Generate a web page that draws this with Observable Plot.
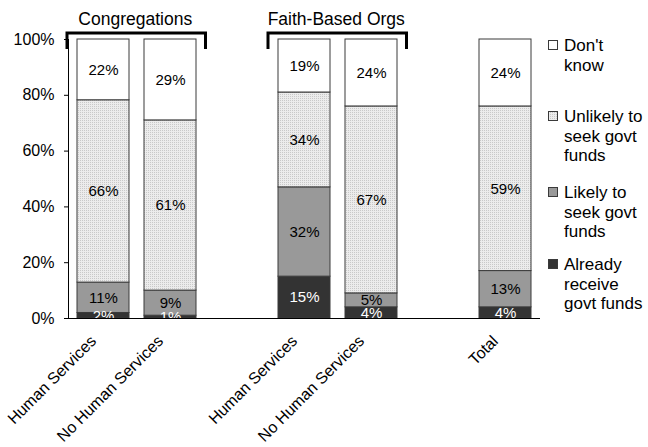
<!DOCTYPE html>
<html><head><meta charset="utf-8">
<script src="https://cdn.jsdelivr.net/npm/d3@7"></script>
<script src="https://cdn.jsdelivr.net/npm/@observablehq/plot@0.6"></script>
<style>body{margin:0;background:#fff} #chart svg{display:block}</style>
</head><body><div id="chart"></div>
<script>
// ---- data ----
const barKeys = ["cong-hs", "cong-nhs", "fbo-hs", "fbo-nhs", "total"];
const barLabels = ["Human Services", "No Human Services", "Human Services", "No Human Services", "Total"];
const slotKeys = ["cong-hs", "cong-nhs", "gap-1", "fbo-hs", "fbo-nhs", "gap-2", "total"];
const seriesNames = ["Already receive govt funds", "Likely to seek govt funds", "Unlikely to seek govt funds", "Don't know"];
const alreadyReceive = [2, 1, 15, 4, 4];
const likelyToSeek = [11, 9, 32, 5, 13];
const unlikelyToSeek = [66, 61, 34, 67, 59];
const dontKnow = [22, 29, 19, 24, 24];
const groupNames = ["Congregations", "Faith-Based Orgs"];
const groupFirst = ["cong-hs", "fbo-hs"];
const groupLast = ["cong-nhs", "fbo-nhs"];
const legendSeries = ["Don't know", "Unlikely to seek govt funds", "Likely to seek govt funds", "Already receive govt funds"];
const legendLines = [["Don't", "know"], ["Unlikely to", "seek govt", "funds"], ["Likely to", "seek govt", "funds"], ["Already", "receive", "govt funds"]];
const yTicks = [0, 0.2, 0.4, 0.6, 0.8, 1];

// ---- build table ----
const seriesValues = [alreadyReceive, likelyToSeek, unlikelyToSeek, dontKnow];
const rows = [];
seriesNames.forEach((s, i) => barKeys.forEach((k, j) => rows.push({key: k, series: s, value: seriesValues[i][j]})));
const labelOf = new Map(barKeys.map((k, i) => [k, barLabels[i]]));
const seriesFills = ["#333333", "#999999", "url(#dots)", "#ffffff"];
const FONT = "'Liberation Sans', Arial, Helvetica, sans-serif";

const chart = Plot.plot({
  width: 648,
  height: 447,
  marginLeft: 68,
  marginRight: 108,
  marginTop: 39,
  marginBottom: 129,
  style: {fontFamily: FONT, fontSize: "16px", color: "#000", background: "#fff"},
  x: {domain: slotKeys, paddingInner: 0.23, paddingOuter: 0.115, label: null},
  y: {domain: [0, 1], label: null},
  color: {domain: seriesNames, range: seriesFills},
  marks: [
    Plot.barY(rows, Plot.stackY({x: "key", y: "value", fill: "series", offset: "normalize", stroke: "#3a3a3a", strokeWidth: 1, inset: 0})),
    Plot.text(rows, Plot.stackY({x: "key", y: "value", offset: "normalize", clip: true,
      text: d => d.series === seriesNames[0] ? `${d.value}%` : "", fill: "#ffffff", fontSize: 15})),
    Plot.text(rows, Plot.stackY({x: "key", y: "value", offset: "normalize", clip: true,
      text: d => d.series === seriesNames[0] ? "" : `${d.value}%`, fill: "#000000", fontSize: 15})),
    Plot.frame({anchor: "left", stroke: "#000"}),
    Plot.ruleY([0], {stroke: "#000"}),
    Plot.axisY({ticks: yTicks, tickFormat: d3.format(".0%"), tickSize: 4, tickPadding: 10, fontSize: 16, label: null}),
    Plot.axisX({tickFormat: k => labelOf.get(k) ?? "", tickRotate: -45, tickSize: 0, tickPadding: 20, dx: -10, fontSize: 16, label: null})
  ]
});

document.getElementById("chart").appendChild(chart);

// ---- annotations: pattern, brackets, group titles, legend ----
const svg = d3.select(chart);
const defs = svg.insert("defs", ":first-child");
const pat = defs.append("pattern").attr("id", "dots").attr("patternUnits", "userSpaceOnUse")
  .attr("width", 2).attr("height", 2);
pat.append("rect").attr("width", 2).attr("height", 2).attr("fill", "#ececec");
pat.append("rect").attr("width", 1).attr("height", 1).attr("fill", "#c9c9c9");

const xs = chart.scale("x");
const bw = xs.bandwidth;
groupNames.forEach((name, i) => {
  const left = xs.apply(groupFirst[i]) - 10;
  const right = xs.apply(groupLast[i]) + bw + 9.5;
  svg.append("path")
    .attr("d", `M${left},49V33H${right}V49`)
    .attr("fill", "none").attr("stroke", "#000").attr("stroke-width", 3);
  svg.append("text")
    .attr("x", (left + right) / 2 - 1).attr("y", 25)
    .attr("text-anchor", "middle")
    .attr("font-family", FONT).attr("font-size", 17.5)
    .text(name);
});

const legendBaselines = [51, 122, 198, 270];
const lg = svg.append("g").attr("font-family", FONT).attr("font-size", 17).attr("text-anchor", "start");
legendSeries.forEach((s, i) => {
  const fill = seriesFills[seriesNames.indexOf(s)];
  const b = legendBaselines[i];
  lg.append("rect").attr("x", 548.5).attr("y", b - 10.5).attr("width", 9).attr("height", 9)
    .attr("fill", fill).attr("stroke", "#3a3a3a").attr("stroke-width", 1);
  const t = lg.append("text").attr("x", 564).attr("y", b).attr("text-anchor", "start");
  legendLines[i].forEach((line, j) => {
    t.append("tspan").attr("x", 564).attr("y", b + j * 19.5).text(line);
  });
});
</script>
</body></html>
